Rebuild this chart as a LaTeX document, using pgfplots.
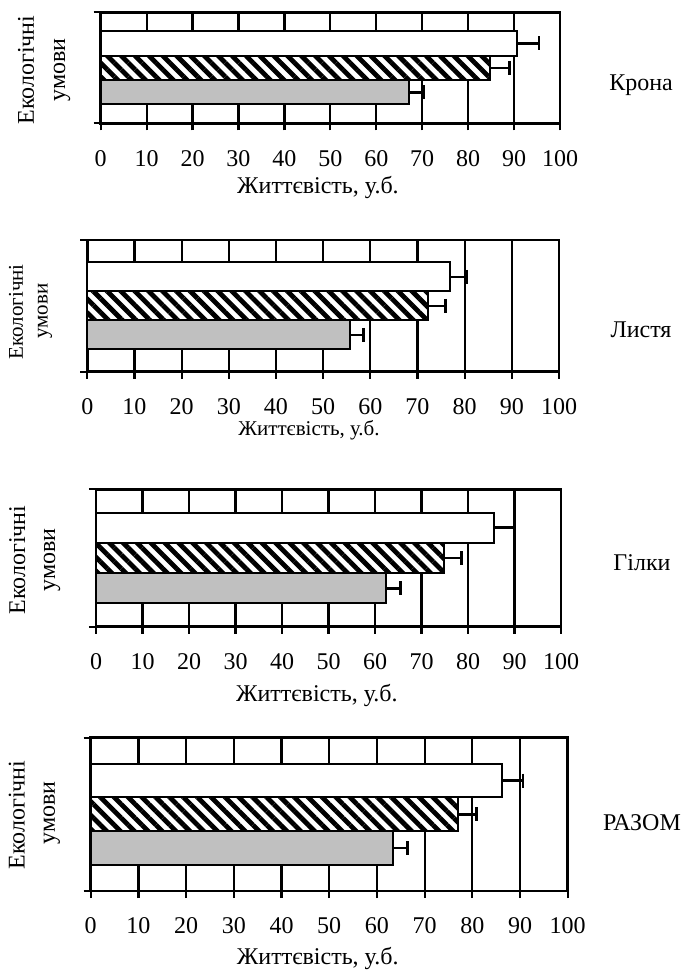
\documentclass[border=0pt]{standalone}
\usepackage{fontspec}
\setmainfont{Liberation Serif}
\usepackage{pgfplots}
\pgfplotsset{compat=1.18}
\usetikzlibrary{patterns.meta}

\definecolor{barGray}{RGB}{192,192,192}

\pgfplotsset{
  vitality/.style={
    scale only axis, xbar, bar shift=0pt, bar width=0.22,
    xmin=0, xmax=100, ymin=0, ymax=1,
    xtick={0,10,...,100}, ytick={0,1}, yticklabels={},
    xtick pos=bottom, ytick pos=left, tick align=outside,
    major tick length=3.5pt,
    tick style={black, line width=1.1pt},
    axis line style={line width=1.3pt},
    xmajorgrids, major grid style={black, line width=1.1pt},
    /pgf/number format/assume math mode=true,
    tick label style={font=\fontsize{12}{14}\selectfont},
    xticklabel style={anchor=center, yshift=-14pt},
    label style={font=\fontsize{12}{14}\selectfont},
    clip=false,
  },
  whitebar/.style={draw=black, line width=1pt, fill=white},
  stripebar/.style={draw=black, line width=1pt, fill=white,
    postaction={pattern={Lines[angle=-45,distance=4.9pt,line width=2.4pt]}}},
  graybar/.style={draw=black, line width=1pt, fill=barGray},
  errs/.style={error bars/.cd, x dir=plus, x explicit, error mark=|,
    error bar style={line width=1.3pt, black},
    error mark options={line width=1.3pt, mark size=3.5pt, black}},
}

\begin{document}
\begin{tikzpicture}
\useasboundingbox (0,0) rectangle (342.5pt,-487pt);

% Крона
\begin{axis}[vitality, at={(50.35pt,-61.65pt)}, anchor=south west,
  width=229.65pt, height=55.5pt,
  xlabel={Життєвість, у.б.},
  xlabel style={at={(axis description cs:0.473,0)}, anchor=center, yshift=-31.85pt}]
\addplot[graybar, errs] coordinates {(67.1,0.28) +- (3.3,0)};
\addplot[stripebar, errs] coordinates {(84.8,0.50) +- (4.2,0)};
\addplot[whitebar, errs] coordinates {(90.7,0.72) +- (4.7,0)};
\end{axis}

% Листя
\begin{axis}[vitality, at={(43.65pt,-185.85pt)}, anchor=south west,
  width=235.85pt, height=65.85pt,
  xlabel={Життєвість, у.б.},
  xlabel style={at={(axis description cs:0.47,0)}, anchor=center, yshift=-29.15pt,
    font=\fontsize{10.5}{12}\selectfont}]
\addplot[graybar, errs] coordinates {(55.7,0.28) +- (2.9,0)};
\addplot[stripebar, errs] coordinates {(72.2,0.50) +- (3.7,0)};
\addplot[whitebar, errs] coordinates {(76.8,0.72) +- (3.7,0)};
\end{axis}

% Гілки
\begin{axis}[vitality, at={(48pt,-313.35pt)}, anchor=south west,
  width=232.5pt, height=68.7pt,
  xlabel={Життєвість, у.б.},
  xlabel style={at={(axis description cs:0.475,0)}, anchor=center, yshift=-34.15pt}]
\addplot[graybar, errs] coordinates {(62.4,0.28) +- (3.1,0)};
\addplot[stripebar, errs] coordinates {(74.9,0.50) +- (3.7,0)};
\addplot[whitebar, errs] coordinates {(85.6,0.72) +- (4.3,0)};
\end{axis}

% Разом
\begin{axis}[vitality, at={(45.35pt,-445.5pt)}, anchor=south west,
  width=238.5pt, height=76.65pt,
  xlabel={Життєвість, у.б.},
  xlabel style={at={(axis description cs:0.476,0)}, anchor=center, yshift=-33.5pt}]
\addplot[graybar, errs] coordinates {(63.3,0.28) +- (3.1,0)};
\addplot[stripebar, errs] coordinates {(77.1,0.50) +- (3.8,0)};
\addplot[whitebar, errs] coordinates {(86.3,0.72) +- (4.3,0)};
\end{axis}

% panel titles on the right
\begin{scope}[every node/.style={font=\fontsize{12}{14}\selectfont}]
\node at (320.5pt,-42.5pt) {Крона};
\node at (320.5pt,-165pt) {Листя};
\node at (321pt,-281.5pt) {Гілки};
\node at (321pt,-411.5pt) {РАЗОМ};
\end{scope}

% vertical axis titles
\begin{scope}[every node/.style={font=\fontsize{12}{14}\selectfont, rotate=90}]
\node at (13pt,-35pt) {Екологічні};
\node at (31pt,-35pt) {умови};
\node at (8.65pt,-280pt) {Екологічні};
\node at (26pt,-280pt) {умови};
\node at (8.35pt,-407.5pt) {Екологічні};
\node at (25.85pt,-406.5pt) {умови};
\end{scope}
\begin{scope}[every node/.style={font=\fontsize{10.5}{12}\selectfont, rotate=90}]
\node at (8pt,-156pt) {Екологічні};
\node at (22.5pt,-155.5pt) {умови};
\end{scope}
\end{tikzpicture}
\end{document}
